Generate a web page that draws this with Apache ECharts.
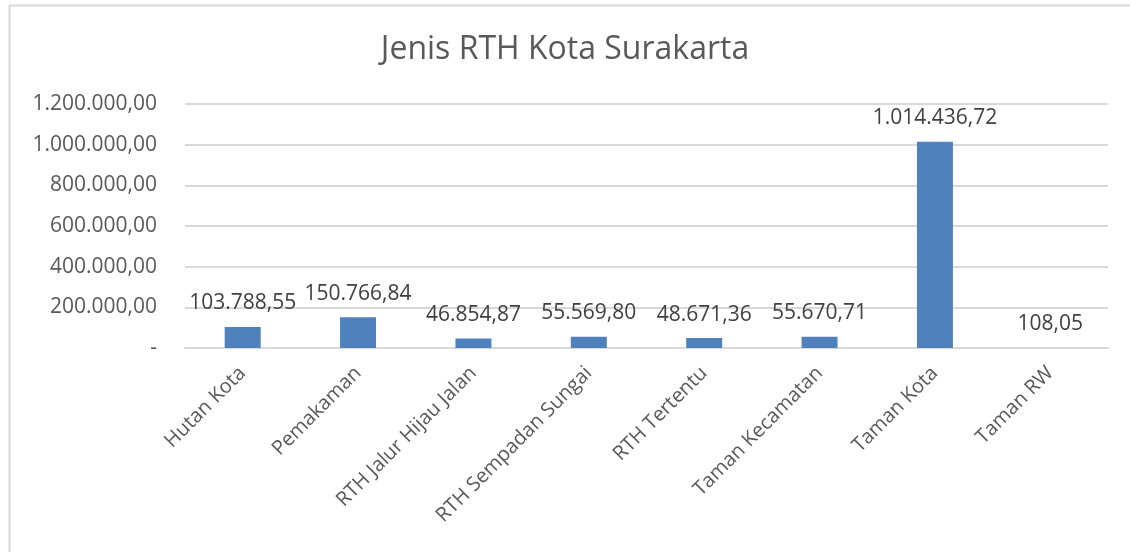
<!DOCTYPE html>
<html>
<head>
<meta charset="utf-8">
<title>Jenis RTH Kota Surakarta</title>
<script src="https://cdn.jsdelivr.net/npm/echarts@6/dist/echarts.min.js"></script>
<style>
  html, body { margin: 0; padding: 0; background: #fff; }
  #chart { width: 1130px; height: 552px; }
</style>
</head>
<body>
<div id="chart"></div>
<script>
// data
var categories = ['Hutan Kota', 'Pemakaman', 'RTH Jalur Hijau Jalan', 'RTH Sempadan Sungai',
  'RTH Tertentu', 'Taman Kecamatan', 'Taman Kota', 'Taman RW']
var luas = [103788.55, 150766.84, 46854.87, 55569.80, 48671.36, 55670.71, 1014436.72, 108.05]
var yTicks = [0, 200000, 400000, 600000, 800000, 1000000, 1200000]

// 1234567.8 -> "1.234.567,80"
function fmtId(v) {
  var parts = Number(v).toFixed(2).split('.')
  var ribuan = parts[0].replace(/\B(?=(\d{3})+(?!\d))/g, '.')
  return ribuan + ',' + parts[1]
}

var font = '"Open Sans", "Noto Sans", sans-serif'
var chart = echarts.init(document.getElementById('chart'))

chart.setOption({
  animation: false,
  backgroundColor: '#fff',
  title: {
    text: 'Jenis RTH Kota Surakarta',
    left: 'center',
    top: 29,
    textStyle: { fontFamily: font, fontSize: 32, fontWeight: 'normal', color: '#595959' }
  },
  graphic: [{
    type: 'rect',
    left: 7, top: 3,
    shape: { width: 1140, height: 570 },
    style: { fill: 'none', stroke: '#d9d9d9', lineWidth: 2 },
    silent: true
  }],
  grid: { left: 185, right: 22, top: 104, bottom: 204, containLabel: false },
  xAxis: {
    type: 'category',
    data: categories,
    axisTick: { show: false },
    axisLine: { lineStyle: { color: '#d9d9d9', width: 2 } },
    axisLabel: {
      rotate: 45,
      interval: 0,
      margin: 22,
      fontFamily: font,
      fontSize: 20,
      color: '#595959'
    }
  },
  yAxis: {
    type: 'value',
    min: yTicks[0],
    max: yTicks[yTicks.length - 1],
    interval: 200000,
    axisLine: { show: false },
    axisTick: { show: false },
    splitLine: { lineStyle: { color: '#d9d9d9', width: 2 } },
    axisLabel: {
      margin: 28,
      fontFamily: font,
      fontSize: 21,
      color: '#595959',
      formatter: function (v) { return v === 0 ? '-' : fmtId(v) }
    }
  },
  series: [{
    type: 'bar',
    data: luas,
    barWidth: 36,
    itemStyle: { color: '#4f81bd' },
    label: {
      show: true,
      position: 'top',
      distance: 13,
      fontFamily: font,
      fontSize: 21,
      color: '#404040',
      formatter: function (p) { return fmtId(p.value) }
    }
  }]
})
</script>
</body>
</html>
